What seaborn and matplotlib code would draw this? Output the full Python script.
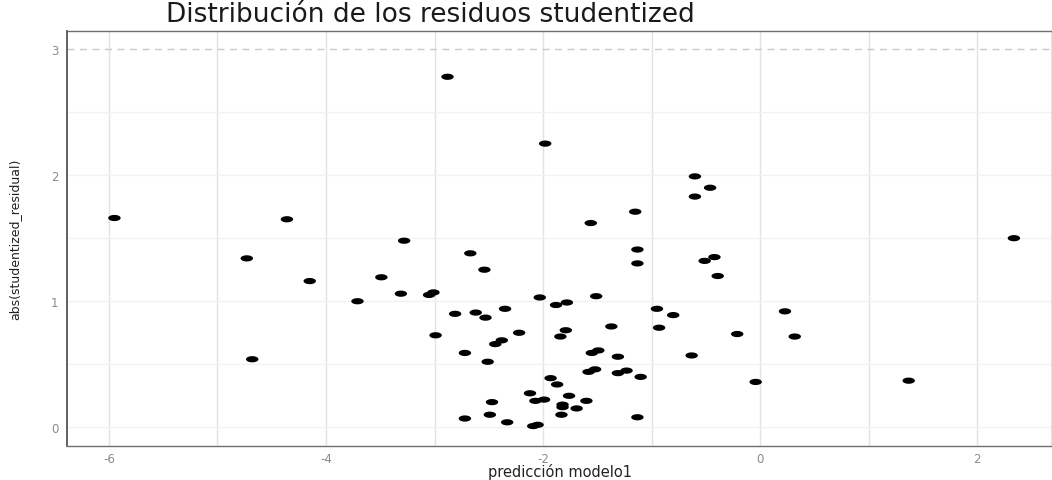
import numpy as np
import pandas as pd
import matplotlib
matplotlib.use("Agg")
import matplotlib.pyplot as plt
from matplotlib.path import Path
import seaborn as sns

# Fitted values of modelo1 and the absolute studentized residuals
prediccion = [
    -5.95, -4.36, -4.73, -4.68, -4.15, -3.71, -3.49, -3.31, -3.28, -3.05,
    -3.01, -2.99, -2.88, -2.81, -2.72, -2.72, -2.67, -2.62, -2.54, -2.53,
    -2.51, -2.47, -2.49, -2.44, -2.38, -2.35, -2.33, -2.22, -2.12, -2.09,
    -2.05, -2.07, -2.03, -1.99, -1.98, -1.93, -1.88, -1.87, -1.84, -1.83,
    -1.82, -1.82, -1.79, -1.78, -1.76, -1.69, -1.60, -1.58, -1.56, -1.55,
    -1.52, -1.51, -1.49, -1.37, -1.31, -1.31, -1.23, -1.15, -1.13, -1.13,
    -1.10, -1.13, -0.95, -0.93, -0.80, -0.63, -0.60, -0.60, -0.51, -0.46,
    -0.42, -0.39, -0.21, -0.04, 0.23, 0.32, 1.37, 2.34,
]
abs_studentized = [
    1.66, 1.65, 1.34, 0.54, 1.16, 1.00, 1.19, 1.06, 1.48, 1.05,
    1.07, 0.73, 2.78, 0.90, 0.59, 0.07, 1.38, 0.91, 1.25, 0.87,
    0.52, 0.20, 0.10, 0.66, 0.69, 0.94, 0.04, 0.75, 0.27, 0.01,
    0.02, 0.21, 1.03, 0.22, 2.25, 0.39, 0.97, 0.34, 0.72, 0.10,
    0.18, 0.16, 0.77, 0.99, 0.25, 0.15, 0.21, 0.44, 1.62, 0.59,
    0.46, 1.04, 0.61, 0.80, 0.56, 0.43, 0.45, 1.71, 1.41, 1.30,
    0.40, 0.08, 0.94, 0.79, 0.89, 0.57, 1.99, 1.83, 1.32, 1.90,
    1.35, 1.20, 0.74, 0.36, 0.92, 0.72, 0.37, 1.50,
]
x_ticks = [-6, -4, -2, 0, 2]
y_ticks = [0, 1, 2, 3]
umbral = 3

df = pd.DataFrame({"prediccion": prediccion, "abs_studentized": abs_studentized})

sns.set_theme(style="white")
plt.rcParams["font.family"] = ["DejaVu Sans"]

fig = plt.figure(figsize=(10.52, 4.81), dpi=100)
ax = fig.add_axes([67 / 1052, 1 - 447 / 481, 1 - 67 / 1052, (447 - 32) / 481])

# wide elliptical point marker
t = np.linspace(0, 2 * np.pi, 60)
ellipse = Path(np.column_stack([np.cos(t), 0.5 * np.sin(t)]), closed=True)

# grid: major and minor lines
for v in [-6, -5, -4, -3, -2, -1, 0, 1, 2]:
    ax.axvline(v, color="#E3E3E3", lw=1.0, zorder=0)
for h in [0, 0.5, 1, 1.5, 2, 2.5]:
    ax.axhline(h, color="#F2F2F2", lw=1.0, zorder=0)

ax.axhline(umbral, color="#C9C9C9", lw=1.0, ls=(0, (5, 4)), zorder=1)

sns.scatterplot(data=df, x="prediccion", y="abs_studentized", ax=ax,
                marker=ellipse, s=80, color="black", edgecolor="none",
                linewidth=0, zorder=3)

ax.set_xlim(-6.387, 2.691)
ax.set_ylim(-0.148, 3.143)
ax.set_xticks(x_ticks)
ax.set_yticks(y_ticks)
ax.set_xticklabels([str(v) for v in x_ticks])
ax.set_yticklabels([str(v) for v in y_ticks])
ax.tick_params(axis="both", which="major", direction="out", length=3,
               width=0.8, color="#8A8A8A", labelcolor="#8A8A8A",
               labelsize=8.5, pad=1)
ax.tick_params(axis="y", pad=3)

for side in ["left", "bottom", "top", "right"]:
    ax.spines[side].set_color("#6E6E6E")
    ax.spines[side].set_linewidth(1.0)
ax.spines["left"].set_color("#555555")
ax.spines["left"].set_linewidth(1.3)

ax.set_xlabel("predicción modelo1", fontsize=10.5, color="#222222",
              va="center")
ax.xaxis.set_label_coords(0.5, (447 - 472.5) / 415)
ax.set_ylabel("abs(studentized_residual)", fontsize=9, color="#222222")
ax.yaxis.set_label_coords(-(67 - 21) / 985, 0.5)

fig.text(166 / 1052, 1 - 15 / 481, "Distribución de los residuos studentized",
         fontsize=19, color="#1A1A1A", ha="left", va="center")

fig.savefig("out.png", dpi=100)
